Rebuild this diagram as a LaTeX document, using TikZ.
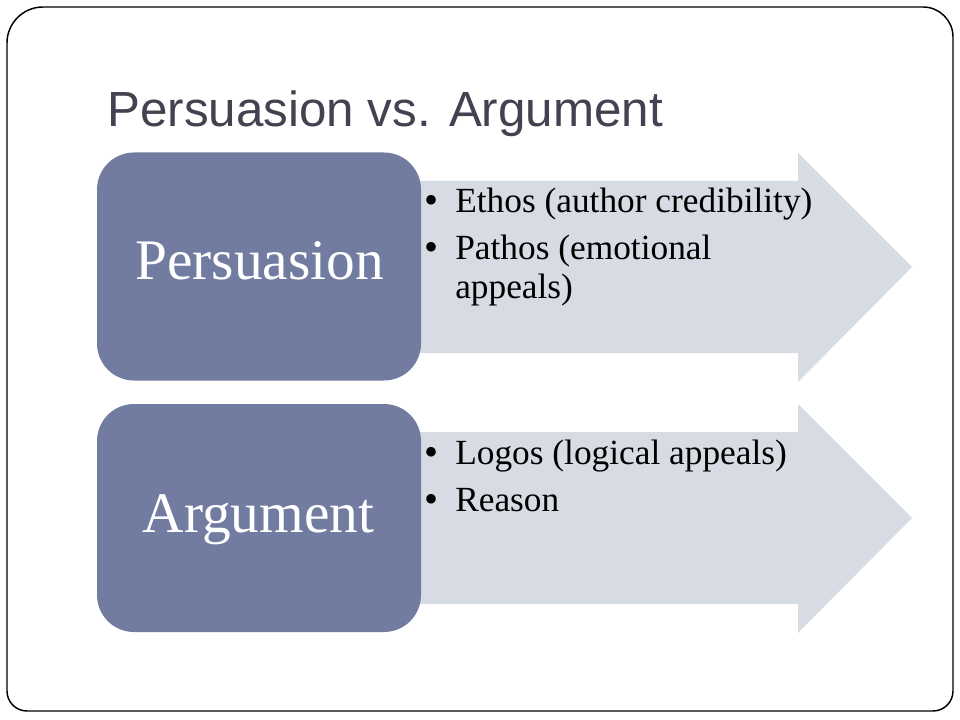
\documentclass[tikz,border=0pt]{standalone}
\usepackage{fontspec}
\setmainfont{Liberation Serif}
\newfontfamily\titlefont{Liberation Sans}
\definecolor{boxblue}{RGB}{114,124,161}
\definecolor{arrowgray}{RGB}{215,219,227}
\definecolor{titlegray}{RGB}{66,66,80}
\tikzset{
  catbox/.style={fill=boxblue, draw=none, rounded corners=27.75pt, minimum width=243pt, minimum height=171pt, inner sep=0pt},
  cattext/.style={text=white, font=\fontsize{43}{50}\selectfont, anchor=base},
  bigarrow/.style={fill=arrowgray, draw=none},
  itemtext/.style={anchor=base west, inner sep=0pt, font=\fontsize{26.5}{30}\selectfont, text=black},
  bulletmark/.style={anchor=base, inner sep=0pt, font=\fontsize{30}{30}\selectfont, text=black},
}
\begin{document}
\begin{tikzpicture}[x=0.75pt,y=-0.75pt]
\useasboundingbox (0,0) rectangle (960,720);
\fill[white] (0,0) rectangle (960,720);
% frame
\draw[black, line width=1.1pt]
  (7,43) arc[start angle=180, end angle=270, radius=36] -- (923,7)
  arc[start angle=270, end angle=360, radius=30] -- (953,691)
  arc[start angle=0, end angle=90, radius=20] -- (27,711)
  arc[start angle=90, end angle=180, radius=20] -- cycle;
% title
\node[anchor=base west, inner sep=0pt, text=titlegray, font=\titlefont\fontsize{37}{44}\selectfont] (title) at (107,127) {Persuasion vs. Argument};
% arrows
\fill[bigarrow] (380,181) -- (798,181) -- (798,153) -- (912,267) -- (798,382) -- (798,353) -- (380,353) -- cycle;
\fill[bigarrow] (380,432) -- (798,432) -- (798,404) -- (912,518) -- (798,633) -- (798,604) -- (380,604) -- cycle;
% boxes
\node[catbox] (pbox) at (259,266.5) {};
\node[catbox] (abox) at (259,518) {};
\node[cattext] (ptext) at (259.5,280) {Persuasion};
\node[cattext] (atext) at (258.5,532) {Argument};
% bullets
\node[bulletmark] (b1) at (431,214) {•};
\node[itemtext] (t1) at (455,213) {Ethos (author credibility)};
\node[bulletmark] (b2) at (431,261) {•};
\node[itemtext] (t2) at (455,260) {Pathos (emotional};
\node[itemtext] (t2b) at (455,298) {appeals)};
\node[bulletmark] (b3) at (431,465) {•};
\node[itemtext] (t3) at (455,464) {Logos (logical appeals)};
\node[bulletmark] (b4) at (431,512) {•};
\node[itemtext] (t4) at (455,511) {Reason};
\end{tikzpicture}
\end{document}
